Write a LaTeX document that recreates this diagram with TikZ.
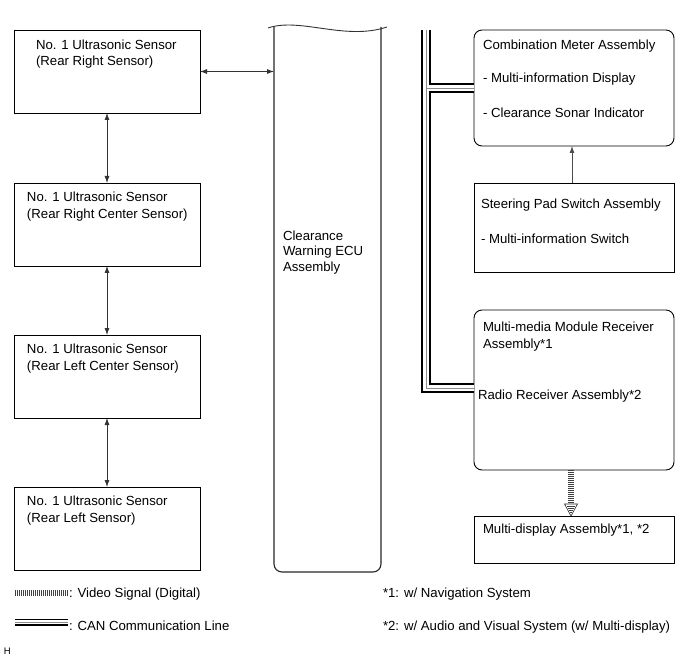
\documentclass[tikz,border=0pt]{standalone}
\usepackage{fontspec}
\setmainfont{Liberation Sans}
\usetikzlibrary{arrows.meta,calc}
\begin{document}
\begin{tikzpicture}[x=1pt,y=-1pt,
  every node/.style={font=\fontsize{13.2}{16}\selectfont, inner sep=0pt, outer sep=0pt},
  sbox/.style={draw, line width=0.9pt, minimum width=186pt, minimum height=83pt, anchor=north west},
  rbox/.style={draw, line width=0.9pt, minimum width=200pt, anchor=north west},
  lbl/.style={anchor=base west},
  conn/.style={line width=0.8pt, draw=black!80, {Latex[length=7pt,width=5pt]}-{Latex[length=7pt,width=5pt]}},
  oneway/.style={line width=0.8pt, draw=black!70, -{Latex[length=7pt,width=5pt]}},
  canA/.style={line width=10pt, black},
  canB/.style={line width=6.4pt, white},
  canC/.style={line width=0.7pt, black!45},
  rungs/.style={line width=5.2pt, black!75, dash pattern=on 0.5pt off 1.5pt},
  rails/.style={double, double distance=5.2pt, line width=0.6pt, black!85},
]
\useasboundingbox (0,0) rectangle (689,658);

% left column sensors
\node[sbox] (s1) at (14,30) {};
\node[sbox] (s2) at (14,183) {};
\node[sbox] (s3) at (14,335) {};
\node[sbox] (s4) at (14,487) {};
\node[lbl] (s1a) at (36,49.8) {No. 1 Ultrasonic Sensor};
\node[lbl] (s1b) at (36,65.8) {(Rear Right Sensor)};
\node[lbl] (s2a) at (27,201.8) {No. 1 Ultrasonic Sensor};
\node[lbl] (s2b) at (27,218.8) {(Rear Right Center Sensor)};
\node[lbl] (s3a) at (27,353.8) {No. 1 Ultrasonic Sensor};
\node[lbl] (s3b) at (27,370.8) {(Rear Left Center Sensor)};
\node[lbl] (s4a) at (27,505.8) {No. 1 Ultrasonic Sensor};
\node[lbl] (s4b) at (27,522.8) {(Rear Left Sensor)};

\draw[conn] (s1.south) -- (s2.north);
\draw[conn] (s2.south) -- (s3.north);
\draw[conn] (s3.south) -- (s4.north);

% ECU
\node[minimum width=107pt, minimum height=544pt, anchor=north west] (ecu) at (274,28) {};
\draw[line width=1.1pt, black!85, rounded corners=8pt] (274,27) -- (274,572) -- (381,572) -- (381,27);
\draw[line width=0.9pt, black!80] (268,28) .. controls (300,17) and (345,41) .. (387,27);
\node[lbl] (ecut1) at (283,240.8) {Clearance};
\node[lbl] (ecut2) at (283,255.8) {Warning ECU};
\node[lbl] (ecut3) at (283,271.8) {Assembly};
\draw[conn] (s1.east) -- (s1.east -| ecu.west);

% right column
\node[rbox, rounded corners=8pt, minimum height=116pt] (cm) at (474,30) {};
\node[rbox, minimum height=89pt] (sp) at (474,183) {};
\node[rbox, rounded corners=8pt, minimum height=160pt] (mm) at (474,310) {};
\node[rbox, minimum height=47pt] (md) at (474,516) {};

\node[lbl] (cmt1) at (483,49.8) {Combination Meter Assembly};
\node[lbl] (cmt2) at (483,82.8) {- Multi-information Display};
\node[lbl] (cmt3) at (483,117.8) {- Clearance Sonar Indicator};
\node[lbl] (spt1) at (481,208.8) {Steering Pad Switch Assembly};
\node[lbl] (spt2) at (481,243.8) {- Multi-information Switch};
\node[lbl] (mmt1) at (483,331.8) {Multi-media Module Receiver};
\node[lbl] (mmt2) at (483,348.8) {Assembly*1};
\node[lbl] (mmt3) at (478,399.8) {Radio Receiver Assembly*2};
\node[lbl] (mdt1) at (483,533.8) {Multi-display Assembly*1, *2};

\draw[oneway] ([xshift=-2pt]sp.north) -- ([xshift=-2pt]cm.south);

% CAN bus
\coordinate (bustop) at (426,30);
\foreach \s in {canA,canB,canC}{
  \draw[\s] (bustop) |- ([yshift=2pt]mm.west);
  \draw[\s] (bustop |- cm.west) -- (cm.west);
}

% video signal
\coordinate (vtop) at ([xshift=-3pt]mm.south);
\coordinate (vhead) at ([xshift=-3pt,yshift=12pt]md.north);
\coordinate (vtip) at ([xshift=-3pt]md.north);
\draw[rails] (vtop) -- (vhead);
\draw[rungs] (vtop) -- (vhead);
\draw[line width=0.6pt, black!85, fill=white] ([xshift=-6.5pt]vhead) -- ([xshift=6.5pt]vhead) -- (vtip) -- cycle;
\foreach \h in {10,8,6,4}{
  \draw[line width=0.5pt, black!75] ($(vtip)+(-\h*0.45+0.6,-\h)$) -- ($(vtip)+(\h*0.45-0.6,-\h)$);
}

% legend
\coordinate (lv1) at (15,593);
\coordinate (lv2) at (68,593);
\draw[rails] (lv1) -- (lv2);
\draw[rungs] (lv1) -- (lv2);
\node[lbl] (lvt) at (69,597.8) {: Video Signal (Digital)};
\coordinate (lc1) at (15,622);
\coordinate (lc2) at (68,622);
\draw[line width=7pt] (lc1) -- (lc2);
\draw[line width=3.6pt, white] (lc1) -- (lc2);
\draw[line width=0.6pt, black!45] (lc1) -- (lc2);
\node[lbl] (lct) at (69,630.8) {: CAN Communication Line};
\node[lbl, font=\fontsize{9.5}{11}\selectfont] (hh) at (4,654.5) {H};

% footnotes
\node[lbl] (fn1) at (383,597.8) {*1: w/ Navigation System};
\node[lbl] (fn2) at (383,630.8) {*2: w/ Audio and Visual System (w/ Multi-display)};
\end{tikzpicture}
\end{document}
